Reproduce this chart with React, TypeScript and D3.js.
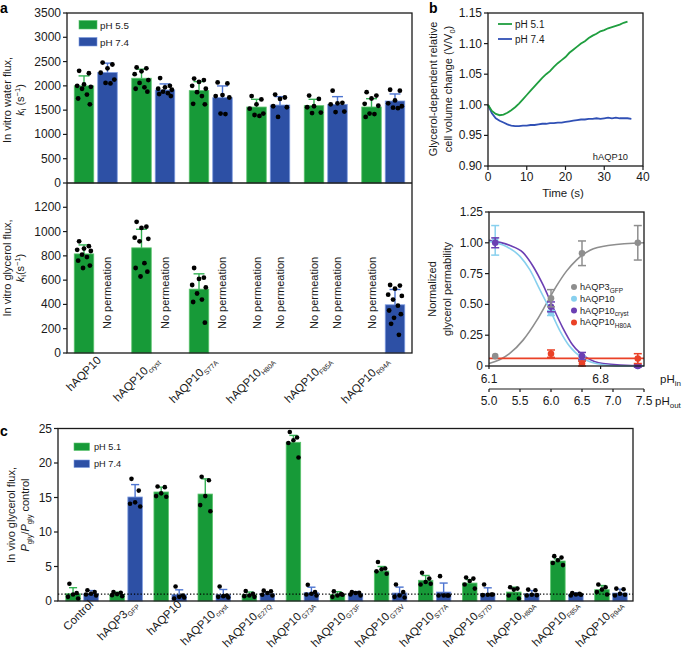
import React from "react";
import * as d3 from "d3";

const FONT = "'Liberation Sans', Arial, Helvetica, sans-serif";
const GREEN = "#179a38";
const GREEN_EDGE = "#5cc46e";
const GREEN_ERR = "#35b255";
const BLUE = "#2d50a5";
const BLUE_EDGE = "#7d9be0";
const BLUE_ERR = "#4d74d0";
const INK = "#1a1a1a";

// ---------- Panel a ----------
const aLabels: [string, string][] = [
  ["hAQP10", ""], ["hAQP10", "cryst"], ["hAQP10", "S77A"],
  ["hAQP10", "H80A"], ["hAQP10", "F85A"], ["hAQP10", "R94A"],
];
const aSeriesNames = ["pH 5.5", "pH 7.4"];
const aTopTicks = [0, 500, 1000, 1500, 2000, 2500, 3000, 3500];
const aBotTicks = [0, 200, 400, 600, 800, 1000, 1200];

const waterMean55 = [2000, 2157, 1902, 1564, 1592, 1565];
const waterSd55 = [205, 186, 186, 159, 131, 171];
const waterMean74 = [2274, 1915, 1757, 1605, 1619, 1688];
const waterSd74 = [193, 125, 241, 173, 159, 145];
const water55Pts = [
  [2310, 2260, 2030, 2000, 1980, 1940, 1820, 1740, 1620],
  [2380, 2360, 2300, 2240, 2120, 2060, 1970, 1940, 1880],
  [2150, 2120, 2080, 2000, 1940, 1870, 1790, 1630, 1620],
  [1790, 1720, 1620, 1530, 1430, 1400, 1380],
  [1800, 1730, 1580, 1560, 1450, 1440],
  [1870, 1800, 1740, 1630, 1590, 1430, 1420, 1360],
];
const water74Pts = [
  [2480, 2440, 2360, 2270, 2130, 2060, 2050],
  [2160, 2000, 1970, 1940, 1920, 1880, 1850, 1830, 1790],
  [2070, 2050, 1810, 1790, 1760, 1430, 1420],
  [1820, 1760, 1730, 1580, 1560, 1360],
  [1900, 1650, 1640, 1620, 1470, 1460],
  [1920, 1900, 1700, 1640, 1580, 1550, 1540],
];
// glycerol (null = no permeation)
const glyMean55 = [816, 866, 526, null, null, null];
const glySd55 = [74, 153, 126, 0, 0, 0];
const glyMean74 = [null, null, null, null, null, 397];
const glySd74 = [0, 0, 0, 0, 0, 126];
const gly55Pts = [
  [920, 880, 860, 850, 840, 810, 790, 760, 720, 700],
  [1080, 1040, 1030, 950, 940, 920, 740, 700, 670, 630],
  [700, 620, 610, 560, 540, 490, 440, 420, 250],
  [], [], [],
];
const gly74Pts = [
  [], [], [], [], [],
  [560, 555, 530, 480, 470, 440, 390, 350, 320, 290, 240, 150],
];

// ---------- Panel b (top) ----------
const bTime51 = d3.range(0, 37);
const bVal51 = [1.0, 0.99, 0.985, 0.983, 0.984, 0.987, 0.991, 0.996, 1.002, 1.009, 1.016, 1.023, 1.03, 1.037, 1.044, 1.05, 1.055, 1.062, 1.068, 1.073, 1.078, 1.085, 1.09, 1.095, 1.1, 1.104, 1.109, 1.113, 1.116, 1.12, 1.122, 1.125, 1.127, 1.129, 1.131, 1.134, 1.136];
const bTime74 = d3.range(0, 38);
const bVal74 = [1.0, 0.986, 0.978, 0.974, 0.971, 0.968, 0.966, 0.965, 0.965, 0.966, 0.966, 0.967, 0.967, 0.968, 0.969, 0.969, 0.97, 0.97, 0.971, 0.971, 0.972, 0.973, 0.974, 0.975, 0.976, 0.976, 0.977, 0.977, 0.978, 0.977, 0.978, 0.979, 0.978, 0.979, 0.978, 0.978, 0.978, 0.977];
const bTopXTicks = [0, 10, 20, 30, 40];
const bTopYTicks = [0.9, 0.95, 1.0, 1.05, 1.1, 1.15];

// ---------- Panel b (bottom) ----------
const phOut = [5.1, 6.0, 6.5, 7.4];
const aqp3Gfp = [0.08, 0.55, 0.915, 1.0];
const aqp3GfpErr = [0, 0.07, 0.1, 0.14];
const aqp10 = [1.02, 0.43, 0.06, 0.0];
const aqp10Err = [0.12, 0.02, 0.02, 0];
const aqp10Cryst = [1.0, 0.48, 0.08, 0.0];
const aqp10CrystErr = [0.04, 0.04, 0.03, 0.01];
const aqp10H80A = [null, 0.1, 0.02, 0.06];
const aqp10H80AErr = [0, 0.03, 0.02, 0.04];
const h80aLevel = 0.062;
const fit3X = [5.0, 5.17, 5.33, 5.55, 5.77, 5.93, 6.09, 6.25, 6.41, 6.63, 6.95, 7.5];
const fit3Y = [0.02, 0.05, 0.1, 0.21, 0.37, 0.51, 0.65, 0.77, 0.86, 0.94, 0.98, 1.0];
const fit10X = [5.0, 5.28, 5.5, 5.66, 5.82, 5.98, 6.14, 6.3, 6.52, 6.73, 7.06, 7.5];
const fit10Y = [1.01, 0.97, 0.89, 0.78, 0.62, 0.46, 0.29, 0.16, 0.06, 0.02, 0.0, 0.0];
const fitCrX = [5.0, 5.33, 5.55, 5.71, 5.87, 6.03, 6.19, 6.35, 6.57, 6.84, 7.5];
const fitCrY = [1.02, 0.98, 0.92, 0.81, 0.66, 0.48, 0.31, 0.17, 0.07, 0.02, 0.0];
const phOutTicks = [5.0, 5.5, 6.0, 6.5, 7.0, 7.5];
const phInTicks = ["6.1", "6.8"];
const phInAtOut = [5.0, 6.8];
const bBotYTicks = [0, 0.25, 0.5, 0.75, 1.0, 1.25];

// ---------- Panel c ----------
const cLabels: [string, string][] = [
  ["Control", ""], ["hAQP3", "GFP"], ["hAQP10", ""], ["hAQP10", "cryst"],
  ["hAQP10", "E27Q"], ["hAQP10", "G73A"], ["hAQP10", "G73F"], ["hAQP10", "G73V"],
  ["hAQP10", "S77A"], ["hAQP10", "S77D"], ["hAQP10", "H80A"], ["hAQP10", "F85A"], ["hAQP10", "R94A"],
];
const cSeriesNames = ["pH 5.1", "pH 7.4"];
const cTicks = [0, 5, 10, 15, 20, 25];
const c51Mean = [1.06, 0.97, 15.8, 15.5, 0.9, 23.0, 0.95, 4.35, 3.0, 2.6, 1.3, 5.8, 1.64];
const c51Sd = [0.87, 0.3, 0.7, 2.2, 0.4, 1.0, 0.4, 0.65, 0.7, 0.5, 0.7, 0.3, 0.6];
const c74Mean = [1.06, 15.07, 0.92, 0.92, 1.05, 1.2, 1.06, 1.16, 1.3, 1.06, 1.06, 0.97, 1.16];
const c74Sd = [0.45, 1.8, 0.7, 0.75, 0.3, 0.8, 0.3, 0.85, 1.3, 0.85, 0.45, 0.2, 0.55];
const c51Pts = [
  [2.5, 1.15, 0.95, 0.6, 0.35],
  [1.3, 1.2, 1.0, 0.85, 0.7],
  [16.6, 16.5, 15.6, 15.2, 15.1],
  [18.0, 17.5, 15.2, 13.9, 13.0],
  [1.45, 1.05, 0.8, 0.7, 0.6],
  [24.5, 23.7, 23.3, 22.9, 20.8],
  [1.4, 1.0, 0.8, 0.6, 0.9],
  [5.65, 4.7, 4.6, 4.3, 3.95],
  [4.1, 3.25, 2.75, 2.4, 2.5],
  [3.4, 3.25, 2.9, 2.4, 1.8],
  [2.0, 1.8, 1.65, 0.8, 0.35],
  [6.5, 6.3, 5.9, 5.5, 5.2],
  [2.4, 2.0, 1.65, 1.3, 0.95],
];
const c74Pts = [
  [1.55, 1.3, 1.05, 0.95, 0.8],
  [17.7, 16.0, 14.3, 14.1, 13.7],
  [2.1, 0.8, 0.6, 0.35, 0.5],
  [2.1, 0.8, 0.7, 0.6, 0.5],
  [1.5, 1.4, 1.15, 0.9, 0.8],
  [2.35, 1.3, 1.05, 0.95, 0.8],
  [1.3, 1.2, 1.15, 0.95, 0.8],
  [2.4, 1.3, 0.8, 0.6, 0.5],
  [3.6, 0.8, 0.8, 0.8, 0.8],
  [2.4, 0.95, 0.9, 0.85, 0.95],
  [1.65, 1.55, 0.9, 0.8, 0.85],
  [1.15, 1.05, 0.95, 0.8, 0.9],
  [1.8, 1.7, 1.05, 0.8, 0.9],
];

// deterministic horizontal spread pattern for dots (layout only)
const JIT = [-5, 5, 0, -7, 7, -2, 3, -6, 6, -1, -4, 4];

function Bar({ x, w, y, mean, sd, pts, fill, edge, err, r }: any) {
  const cx = x + w / 2;
  const y0 = y(0), ym = y(mean), ye = y(mean + sd);
  const cap = w * 0.28;
  return (
    <g>
      <rect x={x} y={ym} width={w} height={y0 - ym} fill={fill} stroke={edge} strokeWidth={0.8} />
      {sd > 0 && (
        <g stroke={err} strokeWidth={1.4}>
          <line x1={cx} x2={cx} y1={ym} y2={ye} />
          <line x1={cx - cap} x2={cx + cap} y1={ye} y2={ye} />
        </g>
      )}
      {pts.map((v: number, j: number) => (
        <circle key={j} cx={cx + (JIT[j % JIT.length] * w) / 20} cy={y(v)} r={r} fill="#000" />
      ))}
    </g>
  );
}

function YTicks({ scale, ticks, x, fmt, fs = 12 }: any) {
  return (
    <g>
      {ticks.map((t: number) => (
        <g key={t}>
          <line x1={x - 4} x2={x} y1={scale(t)} y2={scale(t)} stroke={INK} strokeWidth={1.2} />
          <text x={x - 6} y={scale(t)} textAnchor="end" dominantBaseline="central" fontSize={fs} fill={INK}>
            {fmt(t)}
          </text>
        </g>
      ))}
    </g>
  );
}

function RotLabel({ x, y, base, sub, fs = 11.5, sfs = 7 }: any) {
  return (
    <text transform={`translate(${x},${y}) rotate(-45)`} textAnchor="end" fontSize={fs} fill={INK}>
      {base}
      {sub && (
        <tspan fontSize={sfs} dy={3}>
          {sub}
        </tspan>
      )}
    </text>
  );
}

function PanelA() {
  const x0 = d3.scaleBand<number>().domain(d3.range(aLabels.length)).range([67, 412]);
  const step = x0.bandwidth();
  const x1 = d3.scaleBand<number>().domain([0, 1]).range([7.25, step - 7.25]).paddingInner(0.17);
  const bw = x1.bandwidth();
  const yT = d3.scaleLinear().domain([0, 3500]).range([183, 13]);
  const yB = d3.scaleLinear().domain([0, 1400]).range([353, 183]);
  const series = [
    { fill: GREEN, edge: GREEN_EDGE, err: GREEN_ERR, wm: waterMean55, ws: waterSd55, wp: water55Pts, gm: glyMean55, gs: glySd55, gp: gly55Pts },
    { fill: BLUE, edge: BLUE_EDGE, err: BLUE_ERR, wm: waterMean74, ws: waterSd74, wp: water74Pts, gm: glyMean74, gs: glySd74, gp: gly74Pts },
  ];
  return (
    <g>
      <text x={0} y={13} fontSize={14} fontWeight="bold">a</text>
      {aLabels.map((_, i) =>
        series.map((s, k) => {
          const bx = (x0(i) as number) + (x1(k) as number);
          const gm = s.gm[i];
          return (
            <g key={`${i}-${k}`}>
              <Bar x={bx} w={bw} y={yT} mean={s.wm[i]} sd={s.ws[i]} pts={s.wp[i]} fill={s.fill} edge={s.edge} err={s.err} r={2.4} />
              {gm != null ? (
                <Bar x={bx} w={bw} y={yB} mean={gm} sd={s.gs[i]} pts={s.gp[i]} fill={s.fill} edge={s.edge} err={s.err} r={2.4} />
              ) : (
                <text transform={`translate(${bx + bw / 2},329) rotate(-90)`} dominantBaseline="central" fontSize={11} fill={INK}>
                  No permeation
                </text>
              )}
            </g>
          );
        })
      )}
      {/* frame */}
      <g stroke={INK} strokeWidth={1.3} fill="none">
        <rect x={67} y={13} width={345} height={340} />
        <line x1={67} x2={412} y1={183} y2={183} />
      </g>
      <YTicks scale={yT} ticks={aTopTicks} x={67} fmt={(t: number) => String(t)} />
      <YTicks scale={yB} ticks={aBotTicks} x={67} fmt={(t: number) => String(t)} />
      {/* legend */}
      {aSeriesNames.map((n, k) => (
        <g key={n}>
          <rect x={79} y={20.5 + k * 17} width={18} height={8.5} fill={series[k].fill} stroke={series[k].edge} strokeWidth={0.6} />
          <text x={100} y={25 + k * 17} dominantBaseline="central" fontSize={9.8} fill={INK}>{n}</text>
        </g>
      ))}
      {/* y titles */}
      <text transform="translate(11,100) rotate(-90)" textAnchor="middle" fontSize={11} fill={INK}>In vitro water flux,</text>
      <text transform="translate(23.5,100) rotate(-90)" textAnchor="middle" fontSize={11} fill={INK}>
        <tspan fontStyle="italic">k</tspan>
        <tspan fontSize={7.5} dy={2.5}>i</tspan>
        <tspan dy={-2.5}> (s</tspan>
        <tspan fontSize={7.5} dy={-4}>−1</tspan>
        <tspan dy={4}>)</tspan>
      </text>
      <text transform="translate(11,268) rotate(-90)" textAnchor="middle" fontSize={11} fill={INK}>In vitro glycerol flux,</text>
      <text transform="translate(23.5,268) rotate(-90)" textAnchor="middle" fontSize={11} fill={INK}>
        <tspan fontStyle="italic">k</tspan>
        <tspan fontSize={7.5} dy={2.5}>i</tspan>
        <tspan dy={-2.5}>(s</tspan>
        <tspan fontSize={7.5} dy={-4}>−1</tspan>
        <tspan dy={4}>)</tspan>
      </text>
      {aLabels.map(([b, s], i) => (
        <RotLabel key={i} x={(x0(i) as number) + step / 2 + 6} y={361} base={b} sub={s} />
      ))}
    </g>
  );
}

function PanelBTop() {
  const x = d3.scaleLinear().domain([0, 40]).range([488, 643]);
  const y = d3.scaleLinear().domain([0.9, 1.15]).range([166, 13]);
  const l51 = d3.line<number>().x((_, i) => x(bTime51[i])).y((d) => y(d));
  const l74 = d3.line<number>().x((_, i) => x(bTime74[i])).y((d) => y(d));
  return (
    <g>
      <text x={429} y={13} fontSize={14} fontWeight="bold">b</text>
      <path d={l74(bVal74) || ""} fill="none" stroke="#3050b5" strokeWidth={1.8} />
      <path d={l51(bVal51) || ""} fill="none" stroke="#1f9e3f" strokeWidth={1.8} />
      <rect x={488} y={13} width={155} height={153} fill="none" stroke={INK} strokeWidth={1.3} />
      <YTicks scale={y} ticks={bTopYTicks} x={488} fmt={(t: number) => t.toFixed(2)} />
      {bTopXTicks.map((t) => (
        <g key={t}>
          <line x1={x(t)} x2={x(t)} y1={166} y2={170} stroke={INK} strokeWidth={1.2} />
          <text x={x(t)} y={181} textAnchor="middle" fontSize={12} fill={INK}>{t}</text>
        </g>
      ))}
      <text x={563} y={197} textAnchor="middle" fontSize={11.5} fill={INK}>Time (s)</text>
      <text x={628} y={160} textAnchor="end" fontSize={9.3} fill={INK}>hAQP10</text>
      <line x1={498} x2={512} y1={24} y2={24} stroke="#1f9e3f" strokeWidth={1.8} />
      <text x={515} y={24} dominantBaseline="central" fontSize={10} fill={INK}>pH 5.1</text>
      <line x1={498} x2={512} y1={39} y2={39} stroke="#3050b5" strokeWidth={1.8} />
      <text x={515} y={39} dominantBaseline="central" fontSize={10} fill={INK}>pH 7.4</text>
      <text transform="translate(437,89) rotate(-90)" textAnchor="middle" fontSize={11} fill={INK}>Glycerol-dependent relative</text>
      <text transform="translate(452,89) rotate(-90)" textAnchor="middle" fontSize={11} fill={INK}>
        cell volume change (V/V<tspan fontSize={7.5} dy={2.5}>0</tspan><tspan dy={-2.5}>)</tspan>
      </text>
    </g>
  );
}

function PanelBBottom() {
  const x = d3.scaleLinear().domain([5.0, 7.5]).range([489, 644]);
  const y = d3.scaleLinear().domain([0, 1.25]).range([366, 212]);
  const mk = (xs: number[]) => d3.line<number>().x((_, i) => x(xs[i])).y((d) => y(d)).curve(d3.curveMonotoneX);
  const GREY = "#8e8e8e", LBLUE = "#88d0ee", PURPLE = "#6b3fb3", RED = "#ea4127";
  const pts = (vals: (number | null)[], errs: number[], col: string) => (
    <g>
      {vals.map((v, i) =>
        v == null ? null : (
          <g key={i}>
            {errs[i] > 0 && (
              <g stroke={col} strokeWidth={1.5}>
                <line x1={x(phOut[i])} x2={x(phOut[i])} y1={y(v - errs[i])} y2={y(v + errs[i])} />
                <line x1={x(phOut[i]) - 4} x2={x(phOut[i]) + 4} y1={y(v - errs[i])} y2={y(v - errs[i])} />
                <line x1={x(phOut[i]) - 4} x2={x(phOut[i]) + 4} y1={y(v + errs[i])} y2={y(v + errs[i])} />
              </g>
            )}
            <circle cx={x(phOut[i])} cy={y(v)} r={3.3} fill={col} />
          </g>
        )
      )}
    </g>
  );
  const legend = [
    { c: GREY, b: "hAQP3", s: "GFP" },
    { c: LBLUE, b: "hAQP10", s: "" },
    { c: PURPLE, b: "hAQP10", s: "cryst" },
    { c: RED, b: "hAQP10", s: "H80A" },
  ];
  return (
    <g>
      <path d={mk(fit3X)(fit3Y) || ""} fill="none" stroke={GREY} strokeWidth={1.6} />
      <path d={mk(fitCrX)(fitCrY) || ""} fill="none" stroke={PURPLE} strokeWidth={1.6} />
      <path d={mk(fit10X)(fit10Y) || ""} fill="none" stroke={LBLUE} strokeWidth={1.6} />
      <line x1={x(5.0)} x2={x(7.5)} y1={y(h80aLevel)} y2={y(h80aLevel)} stroke={RED} strokeWidth={1.6} />
      {pts(aqp10, aqp10Err, LBLUE)}
      {pts(aqp10Cryst, aqp10CrystErr, PURPLE)}
      {pts(aqp10H80A, aqp10H80AErr, RED)}
      {pts(aqp3Gfp, aqp3GfpErr, GREY)}
      <rect x={489} y={212} width={155} height={154} fill="none" stroke={INK} strokeWidth={1.3} />
      <YTicks scale={y} ticks={bBotYTicks} x={489} fmt={(t: number) => (t === 0 ? "0" : t.toFixed(2))} />
      {phInTicks.map((t, i) => (
        <g key={t}>
          <line x1={x(phInAtOut[i])} x2={x(phInAtOut[i])} y1={366} y2={369} stroke={INK} strokeWidth={1.2} />
          <text x={x(phInAtOut[i])} y={383} textAnchor="middle" fontSize={12} fill={INK}>{t}</text>
        </g>
      ))}
      <text x={660} y={383} fontSize={11.5} fill={INK}>pH<tspan fontSize={8} dy={3}>in</tspan></text>
      <line x1={489} x2={644} y1={389} y2={389} stroke={INK} strokeWidth={1.2} />
      {phOutTicks.map((t) => (
        <g key={t}>
          <line x1={x(t)} x2={x(t)} y1={389} y2={392} stroke={INK} strokeWidth={1.2} />
          <text x={x(t)} y={405} textAnchor="middle" fontSize={12} fill={INK}>{t.toFixed(1)}</text>
        </g>
      ))}
      <text x={655} y={405} fontSize={11.5} fill={INK}>pH<tspan fontSize={8} dy={3}>out</tspan></text>
      {legend.map((l, i) => (
        <g key={i}>
          <circle cx={574} cy={287 + i * 11.8} r={3} fill={l.c} />
          <text x={580} y={287 + i * 11.8} dominantBaseline="central" fontSize={9.2} fill={INK}>
            {l.b}
            {l.s && <tspan fontSize={6.5} dy={2.5}>{l.s}</tspan>}
          </text>
        </g>
      ))}
      <text transform="translate(436,289) rotate(-90)" textAnchor="middle" fontSize={11} fill={INK}>Normalized</text>
      <text transform="translate(451,289) rotate(-90)" textAnchor="middle" fontSize={11} fill={INK}>glycerol permability</text>
    </g>
  );
}

function PanelC() {
  const x0 = d3.scaleBand<number>().domain(d3.range(cLabels.length)).range([60, 633]);
  const step = x0.bandwidth();
  const inset = (step - 32.5) / 2;
  const x1 = d3.scaleBand<number>().domain([0, 1]).range([inset, step - inset]).paddingInner(0.194);
  const bw = x1.bandwidth();
  const y = d3.scaleLinear().domain([0, 25]).range([601, 428.5]);
  const series = [
    { fill: GREEN, edge: GREEN_EDGE, err: GREEN_ERR, m: c51Mean, s: c51Sd, p: c51Pts },
    { fill: BLUE, edge: BLUE_EDGE, err: BLUE_ERR, m: c74Mean, s: c74Sd, p: c74Pts },
  ];
  return (
    <g>
      <text x={0} y={436} fontSize={14} fontWeight="bold">c</text>
      {cLabels.map((_, i) =>
        series.map((s, k) => (
          <Bar key={`${i}-${k}`} x={(x0(i) as number) + (x1(k) as number)} w={bw} y={y} mean={s.m[i]} sd={s.s[i]} pts={s.p[i]} fill={s.fill} edge={s.edge} err={s.err} r={2.3} />
        ))
      )}
      <line x1={58} x2={633} y1={y(1)} y2={y(1)} stroke="#000" strokeWidth={1.1} strokeDasharray="1.3 2" />
      <rect x={58} y={428.5} width={575} height={172.5} fill="none" stroke={INK} strokeWidth={1.3} />
      <YTicks scale={y} ticks={cTicks} x={58} fmt={(t: number) => String(t)} />
      {cSeriesNames.map((n, k) => (
        <g key={n}>
          <rect x={74} y={443 + k * 17} width={15.5} height={7.5} fill={series[k].fill} stroke={series[k].edge} strokeWidth={0.6} />
          <text x={94} y={447 + k * 17} dominantBaseline="central" fontSize={9.2} fill={INK}>{n}</text>
        </g>
      ))}
      <text transform="translate(15,515) rotate(-90)" textAnchor="middle" fontSize={11} fill={INK}>In vivo glycerol flux,</text>
      <text transform="translate(29,515) rotate(-90)" textAnchor="middle" fontSize={11} fill={INK}>
        <tspan fontStyle="italic">P</tspan>
        <tspan fontSize={7.5} dy={2.5}>gly</tspan>
        <tspan dy={-2.5}>/</tspan>
        <tspan fontStyle="italic">P</tspan>
        <tspan fontSize={7.5} dy={2.5}>gly</tspan>
        <tspan dy={-2.5}> control</tspan>
      </text>
      {cLabels.map(([b, s], i) => (
        <RotLabel key={i} x={(x0(i) as number) + step / 2 + 12} y={605} base={b} sub={s} sfs={6.8} />
      ))}
    </g>
  );
}

export default function App() {
  return (
    <svg width={685} height={651} style={{ position: "absolute", left: 0, top: 0, background: "#fff" }} fontFamily={FONT}>
      <PanelA />
      <PanelBTop />
      <PanelBBottom />
      <PanelC />
    </svg>
  );
}
